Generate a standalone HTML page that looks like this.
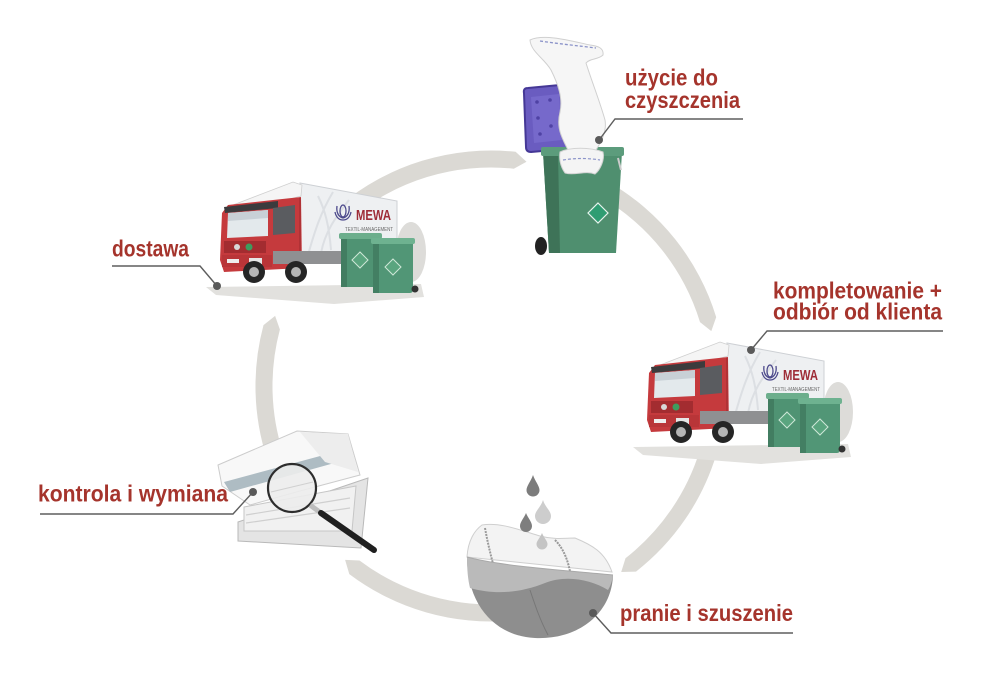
<!DOCTYPE html>
<html><head><meta charset="utf-8"><style>
html,body{margin:0;padding:0;background:#fff;}
svg{display:block;}
.t{font-family:"Liberation Sans",sans-serif;font-weight:bold;font-size:23px;fill:#a5342c;}
.s{font-family:"Liberation Sans",sans-serif;}
</style></head><body>
<svg width="989" height="682" viewBox="0 0 989 682" xmlns="http://www.w3.org/2000/svg">
<rect width="989" height="682" fill="#fff"/>

<!-- ring arrows -->
<g fill="#dbd9d4">
<path d="M339.6,205.6 A235.5,235.5 0 0 1 515.6,151.8 L526.5,161.8 L513.8,168.7 A218.5,218.5 0 0 0 350.5,218.6 Z"/>
<path d="M608.8,182.1 A235.5,235.5 0 0 1 716.2,317.1 L711.3,331.1 L700.0,322.1 A218.5,218.5 0 0 0 600.3,196.8 Z"/>
<path d="M716.2,454.9 A235.5,235.5 0 0 1 636.0,571.6 L621.2,572.0 L625.5,558.2 A218.5,218.5 0 0 0 700.0,449.9 Z"/>
<path d="M511.5,620.6 A235.5,235.5 0 0 1 349.3,574.1 L345.1,559.9 L359.5,560.5 A218.5,218.5 0 0 0 510.1,603.7 Z"/>
<path d="M267.0,458.8 A235.5,235.5 0 0 1 263.5,325.1 L275.1,315.9 L279.9,329.5 A218.5,218.5 0 0 0 283.2,453.5 Z"/>
</g>

<!-- right truck -->
<g>
<polygon points="633,447 848,444 851,457 761,464 643,455" fill="#e2e1de"/>
<ellipse cx="838" cy="412" rx="15" ry="30" fill="#dddcd9"/>
<polygon points="727,343 824,361 824,403 727,419" fill="#eef0f2" stroke="#cdd0d4" stroke-width="1"/>
<path d="M735,415 C742,390 748,372 760,352 M748,413 C752,392 762,378 776,360 M745,356 C752,370 756,385 758,410" stroke="#dcdfe3" stroke-width="2" fill="none"/>
<polygon points="660,365 720,342 729,345 728,356 688,367" fill="#f5f5f5" stroke="#cfcfcf" stroke-width="0.8"/>
<path d="M649,373 L655,365 L700,360 L728,357 L729,428 L651,432 L647,420 Z" fill="#c53a3d"/>
<polygon points="651,367 705,361 705,368 652,373" fill="#3b3b3d"/>
<polygon points="655,373 695,370 695,396 654,398" fill="#e3e9ec"/>
<polygon points="655,373 695,370 695,378 655,381" fill="#c8d0d6"/>
<polygon points="700,368 722,365 722,393 700,395" fill="#5a5c60"/>
<line x1="727" y1="358" x2="727" y2="428" stroke="#9c2b2e"/>
<rect x="651" y="401" width="42" height="12" fill="#a32c30"/>
<circle cx="664" cy="407" r="3" fill="#d8d8d8"/>
<circle cx="676" cy="407" r="3.5" fill="#3d9c5e"/>
<rect x="649" y="415" width="50" height="12" fill="#b93538"/>
<rect x="654" y="419" width="12" height="4" fill="#eeeeee"/>
<rect x="676" y="418" width="13" height="6" fill="#e6e6e6"/>
<rect x="700" y="411" width="70" height="13" fill="#8f9092"/>
<circle cx="681" cy="432" r="11" fill="#252525"/>
<circle cx="681" cy="432" r="5" fill="#b5b5b5"/>
<circle cx="723" cy="432" r="11" fill="#252525"/>
<circle cx="723" cy="432" r="5" fill="#b5b5b5"/>
<g fill="none" stroke="#4d4a8c" stroke-width="1.3">
<ellipse cx="770" cy="371" rx="3" ry="6"/>
<path d="M764,366 C763,373 766,377 770,378 C774,377 777,373 776,366"/>
<path d="M762,372 C763,377 766,380 770,380 C774,380 777,377 778,372"/>
</g>
<rect x="768" y="396" width="39" height="51" rx="3" fill="#4f9373"/>
<rect x="766" y="393" width="43" height="6" rx="2" fill="#6cae8c"/>
<rect x="768" y="399" width="6" height="48" fill="#427d61"/>
<polygon points="787,412 795,420 787,428 779,420" fill="#5aa57f" stroke="#cfe8d8" stroke-width="1"/>
<rect x="800" y="401" width="40" height="52" rx="3" fill="#519676"/>
<rect x="798" y="398" width="44" height="6" rx="2" fill="#6eb290"/>
<rect x="800" y="404" width="6" height="49" fill="#437f63"/>
<polygon points="820,419 828,427 820,435 812,427" fill="#5aa57f" stroke="#cfe8d8" stroke-width="1"/>
<circle cx="842" cy="449" r="3.5" fill="#333"/>
</g>
<text class="s" x="783" y="380" font-size="15" font-weight="bold" textLength="35" lengthAdjust="spacingAndGlyphs" fill="#9e2c37">MEWA</text>
<text class="s" x="772" y="391" font-size="5" textLength="48" lengthAdjust="spacingAndGlyphs" fill="#666">TEXTIL-MANAGEMENT</text>

<!-- left truck (same drawing shifted) -->
<g transform="translate(-427,-160)">
<polygon points="633,447 848,444 851,457 761,464 643,455" fill="#e2e1de"/>
<ellipse cx="838" cy="412" rx="15" ry="30" fill="#dddcd9"/>
<polygon points="727,343 824,361 824,403 727,419" fill="#eef0f2" stroke="#cdd0d4" stroke-width="1"/>
<path d="M735,415 C742,390 748,372 760,352 M748,413 C752,392 762,378 776,360 M745,356 C752,370 756,385 758,410" stroke="#dcdfe3" stroke-width="2" fill="none"/>
<polygon points="660,365 720,342 729,345 728,356 688,367" fill="#f5f5f5" stroke="#cfcfcf" stroke-width="0.8"/>
<path d="M649,373 L655,365 L700,360 L728,357 L729,428 L651,432 L647,420 Z" fill="#c53a3d"/>
<polygon points="651,367 705,361 705,368 652,373" fill="#3b3b3d"/>
<polygon points="655,373 695,370 695,396 654,398" fill="#e3e9ec"/>
<polygon points="655,373 695,370 695,378 655,381" fill="#c8d0d6"/>
<polygon points="700,368 722,365 722,393 700,395" fill="#5a5c60"/>
<line x1="727" y1="358" x2="727" y2="428" stroke="#9c2b2e"/>
<rect x="651" y="401" width="42" height="12" fill="#a32c30"/>
<circle cx="664" cy="407" r="3" fill="#d8d8d8"/>
<circle cx="676" cy="407" r="3.5" fill="#3d9c5e"/>
<rect x="649" y="415" width="50" height="12" fill="#b93538"/>
<rect x="654" y="419" width="12" height="4" fill="#eeeeee"/>
<rect x="676" y="418" width="13" height="6" fill="#e6e6e6"/>
<rect x="700" y="411" width="70" height="13" fill="#8f9092"/>
<circle cx="681" cy="432" r="11" fill="#252525"/>
<circle cx="681" cy="432" r="5" fill="#b5b5b5"/>
<circle cx="723" cy="432" r="11" fill="#252525"/>
<circle cx="723" cy="432" r="5" fill="#b5b5b5"/>
<g fill="none" stroke="#4d4a8c" stroke-width="1.3">
<ellipse cx="770" cy="371" rx="3" ry="6"/>
<path d="M764,366 C763,373 766,377 770,378 C774,377 777,373 776,366"/>
<path d="M762,372 C763,377 766,380 770,380 C774,380 777,377 778,372"/>
</g>
<rect x="768" y="396" width="39" height="51" rx="3" fill="#4f9373"/>
<rect x="766" y="393" width="43" height="6" rx="2" fill="#6cae8c"/>
<rect x="768" y="399" width="6" height="48" fill="#427d61"/>
<polygon points="787,412 795,420 787,428 779,420" fill="#5aa57f" stroke="#cfe8d8" stroke-width="1"/>
<rect x="800" y="401" width="40" height="52" rx="3" fill="#519676"/>
<rect x="798" y="398" width="44" height="6" rx="2" fill="#6eb290"/>
<rect x="800" y="404" width="6" height="49" fill="#437f63"/>
<polygon points="820,419 828,427 820,435 812,427" fill="#5aa57f" stroke="#cfe8d8" stroke-width="1"/>
<circle cx="842" cy="449" r="3.5" fill="#333"/>
</g>
<text class="s" x="356" y="220" font-size="15" font-weight="bold" textLength="35" lengthAdjust="spacingAndGlyphs" fill="#9e2c37">MEWA</text>
<text class="s" x="345" y="231" font-size="5" textLength="48" lengthAdjust="spacingAndGlyphs" fill="#666">TEXTIL-MANAGEMENT</text>

<!-- bin -->
<g>
<path d="M524,93 Q523,88 528,88 L560,85 Q566,84 566,90 L570,144 Q570,149 565,149 L531,152 Q526,152 526,147 Z" fill="#6a5cc0" stroke="#453896" stroke-width="2" stroke-linejoin="round"/>
<path d="M531,97 L559,94 L562,140 L534,143 Z" fill="#7669cb"/>
<g fill="#4f42a4"><circle cx="537" cy="102" r="1.8"/><circle cx="550" cy="100" r="1.8"/><circle cx="538" cy="118" r="1.8"/><circle cx="540" cy="134" r="1.8"/><circle cx="551" cy="126" r="1.8"/></g>
<polygon points="543,152 622,152 616,253 549,253" fill="#4f8f6f"/>
<polygon points="543,152 558,153 560,253 549,253" fill="#3e7358"/>
<rect x="541" y="147" width="83" height="9" rx="2" fill="#5c9c7c"/>
<path d="M618,158 L621,170" stroke="#ccc" stroke-width="2"/>
<polygon points="598,203 608,213 598,223 588,213" fill="#2f9d72" stroke="#e8f4ee" stroke-width="1.2"/>
<ellipse cx="541" cy="246" rx="6" ry="9" fill="#222"/>
<path d="M530,40 C545,33 575,42 590,45 C598,46 604,48 603,55 C598,60 590,58 586,63 C592,82 600,102 605,120 C607,132 601,142 596,150 L568,150 C562,138 556,128 560,112 C563,98 558,84 551,70 C544,58 531,52 530,40 Z" fill="#f6f6f6" stroke="#d0d0d0" stroke-width="1"/>
<path d="M540,41 C560,44 580,46 596,48" stroke="#8b93c9" stroke-width="1.3" stroke-dasharray="3,2" fill="none"/>
<path d="M560,152 C570,147 590,147 603,152 C605,160 600,170 595,174 C585,170 575,176 565,173 C560,166 559,158 560,152 Z" fill="#f4f4f4" stroke="#d3d3d3" stroke-width="1"/>
<path d="M563,160 C575,158 588,158 600,160" stroke="#8b93c9" stroke-width="1.2" stroke-dasharray="3,2" fill="none"/>
</g>

<!-- bowl -->
<g>
<path d="M467,557 C468,540 475,530 482,525 C500,522 520,530 540,536 C555,540 565,538 575,538 C592,545 605,552 612,572 Z" fill="#f3f3f3" stroke="#cfcfcf" stroke-width="1"/>
<path d="M485,528 C488,545 492,560 496,575" stroke="#9a9a9a" stroke-width="2" fill="none" stroke-dasharray="2,1"/>
<path d="M555,540 C565,550 570,565 572,585" stroke="#999" stroke-width="2" fill="none" stroke-dasharray="2,1"/>
<path d="M467,557 C500,566 560,570 613,575 C612,612 580,640 535,638 C495,636 467,605 467,557 Z" fill="#8e8e8e"/>
<path d="M467,557 C500,566 560,570 613,575 C612,582 610,587 608,590 C590,579 565,575 545,583 C520,593 495,595 470,588 C468,580 467,570 467,557 Z" fill="#bababa"/>
<path d="M467,557 C500,566 560,570 613,575" stroke="#a9a9a9" stroke-width="1" fill="none"/>
<path d="M530,590 C535,605 540,620 548,635" stroke="#777" stroke-width="1" fill="none"/>
<path d="M533,475 C535,481 539.5,486 539.5,490 A6.5,6.5 0 0 1 526.5,490 C526.5,486 531,481 533,475 Z" fill="#7c7c7c"/>
<path d="M543,500 C545,507 551,511 551,516 A8,8 0 0 1 535,516 C535,511 541,507 543,500 Z" fill="#cdcdcd"/>
<path d="M526,513 C528,518 532,522 532,526 A6,6 0 0 1 520,526 C520,522 524,518 526,513 Z" fill="#7e7e7e"/>
<path d="M542,533 C544,538 547.5,541 547.5,544 A5.5,5.5 0 0 1 536.5,544 C536.5,541 540,538 542,533 Z" fill="#c4c4c4"/>
</g>

<!-- towels -->
<g>
<polygon points="238,522 368,478 361,548 238,541" fill="#e4e4e4" stroke="#b9b9b9" stroke-width="1"/>
<polygon points="244,507 356,486 352,531 244,531" fill="#f1f1f1" stroke="#c6c6c6" stroke-width="1"/>
<path d="M246,515 L350,498 M246,523 L350,508" stroke="#cfcfcf" stroke-width="1.2"/>
<polygon points="218,465 297,431 348,434 360,475 300,491 250,505 222,486" fill="#f8f8f8" stroke="#cccccc" stroke-width="1"/>
<polygon points="224,482 335,452 338,462 230,492" fill="#aebcc3"/>
<polygon points="300,432 348,434 358,472 325,462" fill="#ededed"/>
<circle cx="292" cy="488" r="24" fill="#ececec" fill-opacity="0.9" stroke="#2d2d2d" stroke-width="2.2"/>
<path d="M271,492 L313,482" stroke="#d0d0d0" stroke-width="1" fill="none"/>
<line x1="310" y1="505" x2="321" y2="513" stroke="#bdbdbd" stroke-width="5"/>
<line x1="321" y1="513" x2="374" y2="550" stroke="#1f1f1f" stroke-width="6" stroke-linecap="round"/>
</g>

<!-- labels & leaders -->
<g stroke="#5e5e5e" stroke-width="1.4" fill="none">
<polyline points="599,140 615,119 743,119"/>
<polyline points="112,266 200,266 217,286"/>
<polyline points="943,331 767,331 751,350"/>
<polyline points="593,613 611,633 793,633"/>
<polyline points="40,514 233,514 253,492"/>
</g>
<g fill="#5a5a5a">
<circle cx="599" cy="140" r="4"/>
<circle cx="217" cy="286" r="4"/>
<circle cx="751" cy="350" r="4"/>
<circle cx="593" cy="613" r="4"/>
<circle cx="253" cy="492" r="4"/>
</g>

<text class="t" x="625" y="85.5" textLength="93" lengthAdjust="spacingAndGlyphs">użycie do</text>
<text class="t" x="625" y="108" textLength="115" lengthAdjust="spacingAndGlyphs">czyszczenia</text>
<text class="t" x="112" y="256.5" textLength="77" lengthAdjust="spacingAndGlyphs">dostawa</text>
<text class="t" x="773" y="298.5" textLength="169" lengthAdjust="spacingAndGlyphs">kompletowanie +</text>
<text class="t" x="773" y="319.5" textLength="169" lengthAdjust="spacingAndGlyphs">odbiór od klienta</text>
<text class="t" x="620" y="621" textLength="173" lengthAdjust="spacingAndGlyphs">pranie i szuszenie</text>
<text class="t" x="38" y="501.5" textLength="190" lengthAdjust="spacingAndGlyphs">kontrola i wymiana</text>
</svg>
</body></html>
